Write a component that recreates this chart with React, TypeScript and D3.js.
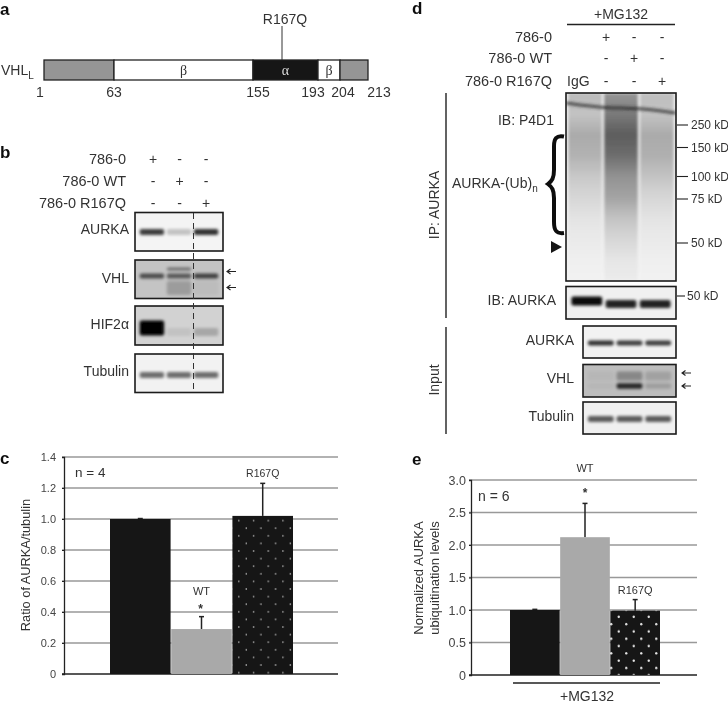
import React, { useRef, useEffect } from "react";
import * as d3 from "d3";

// panel a: VHL domains (residue boundaries)
const residues = [1, 63, 155, 167, 193, 204, 213];
const domainStarts = [1, 63, 155, 193, 204];
const domainEnds = [63, 155, 193, 204, 213];
const domainNames = ["", "β", "α", "β", ""];
const residueLabels = [1, 63, 155, 193, 204, 213];

// panel c
const groupsC = ["786-0", "WT", "R167Q"];
const ratioValues = [1.0, 0.29, 1.02];
const ratioErrors = [0.003, 0.08, 0.21];
const ratioTicks = [0, 0.2, 0.4, 0.6, 0.8, 1.0, 1.2, 1.4];

// panel e
const groupsE = ["786-0", "WT", "R167Q"];
const ubValues = [1.0, 2.12, 0.99];
const ubErrors = [0.01, 0.52, 0.17];
const ubTicks = [0, 0.5, 1.0, 1.5, 2.0, 2.5, 3.0];

// band darkness per lane
const bAurka = [0.75, 0.2, 0.8];
const bVhlMain = [0.62, 0.55, 0.68];
const bVhlUpper = [0, 0.45, 0];
const bVhlLower = [0, 0.2, 0.04];
const bHif = [1, 0.07, 0.2];
const bTubulin = [0.55, 0.55, 0.55];
const dIpAurka = [0.95, 0.85, 0.85];
const dInAurka = [0.8, 0.75, 0.75];
const dVhlUpper = [0.03, 0.28, 0.14];
const dVhlLower = [0.03, 0.8, 0.16];
const dTubulin = [0.62, 0.62, 0.62];

// ubiquitin smear darkness, top to bottom of the blot
const smearLane1 = [0.24, 0.2, 0.3, 0.27, 0.18, 0.12, 0.07, 0.04, 0.02, 0.01];
const smearLane2 = [0.38, 0.5, 0.62, 0.55, 0.4, 0.33, 0.2, 0.12, 0.06, 0.03];
const smearLane3 = [0.22, 0.2, 0.3, 0.28, 0.2, 0.12, 0.07, 0.04, 0.02, 0.01];

const kdTicks = [250, 150, 100, 75, 50];

const signs = [
  ["+", "-", "-"],
  ["-", "+", "-"],
  ["-", "-", "+"],
];
const rowNames = ["786-0", "786-0 WT", "786-0 R167Q"];

const FONT = "'Liberation Sans', Arial, sans-serif";
const INK = "#333";

type Sel = d3.Selection<any, any, any, any>;

const label = (
  g: Sel,
  x: number,
  y: number,
  str: string,
  size = 14,
  anchor = "start",
  rotate = false
) =>
  g
    .append("text")
    .attr("transform", rotate ? `translate(${x},${y}) rotate(-90)` : `translate(${x},${y})`)
    .attr("text-anchor", anchor)
    .attr("dominant-baseline", "central")
    .attr("font-size", size)
    .attr("fill", INK)
    .text(str);

const drawBlot = (
  svg: Sel,
  id: string,
  box: number[],
  bg: string,
  bands: { levels: number[]; y: number; h: number }[]
) => {
  const [x0, x1, y0, y1] = box;
  const lanes = d3.scaleBand<number>().domain([0, 1, 2]).range([x0 + 2, x1 - 2]).padding(0.1);
  svg
    .append("clipPath")
    .attr("id", id)
    .append("rect")
    .attr("x", x0)
    .attr("y", y0)
    .attr("width", x1 - x0)
    .attr("height", y1 - y0);
  const g = svg.append("g").attr("clip-path", `url(#${id})`);
  g.append("rect")
    .attr("x", x0)
    .attr("y", y0)
    .attr("width", x1 - x0)
    .attr("height", y1 - y0)
    .attr("fill", bg);
  bands.forEach((b) => {
    g.selectAll(null)
      .data(b.levels)
      .enter()
      .append("rect")
      .attr("x", (_, i) => lanes(i)!)
      .attr("y", b.y - b.h / 2)
      .attr("width", lanes.bandwidth())
      .attr("height", b.h)
      .attr("rx", 2)
      .attr("fill", "#000")
      .attr("opacity", (d) => d)
      .attr("filter", "url(#bandBlur)");
  });
  svg
    .append("rect")
    .attr("x", x0)
    .attr("y", y0)
    .attr("width", x1 - x0)
    .attr("height", y1 - y0)
    .attr("fill", "none")
    .attr("stroke", "#1a1a1a")
    .attr("stroke-width", 1.6);
};

const drawArrow = (g: Sel, x: number, y: number) =>
  g
    .append("path")
    .attr("d", `M${x},${y}h9M${x + 3.5},${y - 2.5}L${x},${y}L${x + 3.5},${y + 2.5}`)
    .attr("fill", "none")
    .attr("stroke", "#222")
    .attr("stroke-width", 1.1);

const drawBars = (
  svg: Sel,
  cfg: {
    groups: string[];
    values: number[];
    errors: number[];
    ticks: number[];
    max: number;
    axisX: number;
    gridEnd: number;
    top: number;
    bottom: number;
    barRange: number[];
    dots: string;
    fontSize: number;
    padding: number;
  }
) => {
  const y = d3.scaleLinear().domain([0, cfg.max]).range([cfg.bottom, cfg.top]);
  const x = d3.scaleBand().domain(cfg.groups).range(cfg.barRange as [number, number]).paddingInner(0.01);
  const fills = ["#151515", "#a9a9a9", `url(#${cfg.dots})`];

  svg
    .append("g")
    .selectAll("line")
    .data(cfg.ticks.slice(1))
    .enter()
    .append("line")
    .attr("x1", cfg.axisX - 2)
    .attr("x2", cfg.gridEnd)
    .attr("y1", (d) => y(d))
    .attr("y2", (d) => y(d))
    .attr("stroke", "#999")
    .attr("stroke-width", 1.4);

  const axis = svg
    .append("g")
    .attr("transform", `translate(${cfg.axisX},0)`)
    .call(
      d3
        .axisLeft(y)
        .tickValues(cfg.ticks)
        .tickSize(2)
        .tickPadding(cfg.padding)
        .tickFormat((d) => (+d === 0 ? "0" : (+d).toFixed(1)))
    );
  axis.select(".domain").attr("stroke", "#222").attr("stroke-width", 1.3);
  axis.selectAll(".tick line").attr("stroke", "#222");
  axis
    .selectAll("text")
    .attr("font-family", FONT)
    .attr("font-size", cfg.fontSize)
    .attr("fill", "#444");

  svg
    .append("line")
    .attr("x1", cfg.axisX - 2)
    .attr("x2", cfg.gridEnd)
    .attr("y1", y(0))
    .attr("y2", y(0))
    .attr("stroke", "#222")
    .attr("stroke-width", 1.6);

  // error bars go under the bars, only the upper arm shows
  const err = svg.append("g").attr("stroke", "#222").attr("stroke-width", 1.5);
  cfg.values.forEach((v, i) => {
    const cx = x(cfg.groups[i])! + x.bandwidth() / 2;
    const top = y(v + cfg.errors[i]);
    err.append("line").attr("x1", cx).attr("x2", cx).attr("y1", y(v)).attr("y2", top);
    err.append("line").attr("x1", cx - 2.5).attr("x2", cx + 2.5).attr("y1", top).attr("y2", top);
  });

  svg
    .append("g")
    .selectAll("rect")
    .data(cfg.values)
    .enter()
    .append("rect")
    .attr("x", (_, i) => x(cfg.groups[i])!)
    .attr("y", (d) => y(d))
    .attr("width", x.bandwidth())
    .attr("height", (d) => y(0) - y(d))
    .attr("fill", (_, i) => fills[i]);

  return { x, y };
};

const addDots = (defs: Sel, id: string, w: number, h: number, r: number) => {
  const p = defs
    .append("pattern")
    .attr("id", id)
    .attr("patternUnits", "userSpaceOnUse")
    .attr("width", w)
    .attr("height", h);
  p.append("rect").attr("width", w).attr("height", h).attr("fill", "#151515");
  p.append("circle").attr("cx", w / 4).attr("cy", h / 4).attr("r", r).attr("fill", "#e8e8e8");
  p.append("circle").attr("cx", (3 * w) / 4).attr("cy", (3 * h) / 4).attr("r", r).attr("fill", "#e8e8e8");
};

const App = () => {
  const svgRef = useRef<SVGSVGElement>(null);

  useEffect(() => {
    const root = d3.select(svgRef.current);
    root.selectAll("*").remove();

    const defs = root.append("defs");
    defs
      .append("filter")
      .attr("id", "soft")
      .attr("x", 0)
      .attr("y", 0)
      .attr("width", "100%")
      .attr("height", "100%")
      .append("feGaussianBlur")
      .attr("stdDeviation", 0.45);
    defs
      .append("filter")
      .attr("id", "bandBlur")
      .attr("x", "-20%")
      .attr("y", "-150%")
      .attr("width", "140%")
      .attr("height", "400%")
      .append("feGaussianBlur")
      .attr("stdDeviation", 1.8);
    defs
      .append("filter")
      .attr("id", "smearBlur")
      .attr("x", "-30%")
      .attr("y", "-5%")
      .attr("width", "160%")
      .attr("height", "110%")
      .append("feGaussianBlur")
      .attr("stdDeviation", 1.8);
    addDots(defs, "dotsC", 14.7, 15.2, 0.75);
    addDots(defs, "dotsE", 15, 14.6, 1.2);

    const svg = root.append("g").attr("filter", "url(#soft)").attr("font-family", FONT);
    svg.append("rect").attr("width", 728).attr("height", 704).attr("fill", "#fff");

    // panel letters
    [
      ["a", 0, 9],
      ["b", 0, 152],
      ["c", 0, 458],
      ["d", 412, 8],
      ["e", 412, 459],
    ].forEach(([t, x, y]) => {
      label(svg, x as number, y as number, t as string, 17, "start")
        .attr("font-weight", "bold")
        .attr("fill", "#111");
    });

    // --- a ---
    const pos = d3
      .scaleLinear()
      .domain(residues)
      .range([44, 114, 253, 282, 318, 340, 368]);
    const fills = ["#959595", "#fff", "#151515", "#fff", "#959595"];
    const a = svg.append("g");
    a.selectAll("rect")
      .data(domainStarts)
      .enter()
      .append("rect")
      .attr("x", (d) => pos(d))
      .attr("y", 60)
      .attr("width", (d, i) => pos(domainEnds[i]) - pos(d))
      .attr("height", 20)
      .attr("fill", (_, i) => fills[i])
      .attr("stroke", "#222")
      .attr("stroke-width", 1.3);
    domainNames.forEach((n, i) => {
      if (!n) return;
      label(a, (pos(domainStarts[i]) + pos(domainEnds[i])) / 2, 70.5, n, 14, "middle")
        .attr("font-family", "'Liberation Serif', serif")
        .attr("fill", n === "α" ? "#ddd" : "#333");
    });
    a.append("line")
      .attr("x1", pos(167))
      .attr("x2", pos(167))
      .attr("y1", 26)
      .attr("y2", 60)
      .attr("stroke", "#333")
      .attr("stroke-width", 1);
    label(a, pos(167) + 3, 19, "R167Q", 14, "middle");
    const vhl = label(a, 1, 70, "VHL", 14);
    vhl.append("tspan").attr("font-size", 10).attr("dy", 5).text("L");
    const labelShift = [-4, 0, 5, -5, 3, 11];
    residueLabels.forEach((r, i) => label(a, pos(r) + labelShift[i], 92, String(r), 14, "middle"));

    // --- b ---
    const signXB = d3.scalePoint().domain(["0", "1", "2"]).range([153, 206]);
    const rowYB = [159, 181, 203];
    rowNames.forEach((n, r) => {
      label(svg, 126, rowYB[r], n, 14.5, "end");
      signs[r].forEach((s, c) => label(svg, signXB(String(c))!, rowYB[r], s, 14, "middle"));
    });
    drawBlot(svg, "b1", [135, 223, 212.5, 251], "#f4f4f4", [{ levels: bAurka, y: 232, h: 6 }]);
    drawBlot(svg, "b2", [135, 223, 260, 298.5], "#c4c4c4", [
      { levels: bVhlMain, y: 276, h: 5 },
      { levels: bVhlUpper, y: 269, h: 3 },
      { levels: bVhlLower, y: 288, h: 14 },
    ]);
    drawBlot(svg, "b3", [135, 223, 306, 345], "#d2d2d2", [
      { levels: bHif.map((d, i) => (i === 0 ? d : 0)), y: 328, h: 15 },
      { levels: bHif.map((d, i) => (i === 0 ? 0 : d)), y: 332, h: 8 },
    ]);
    drawBlot(svg, "b4", [135, 223, 354, 392.5], "#f2f2f2", [{ levels: bTubulin, y: 375, h: 6 }]);
    svg
      .append("line")
      .attr("x1", 193.5)
      .attr("x2", 193.5)
      .attr("y1", 213)
      .attr("y2", 392)
      .attr("stroke", "#333")
      .attr("stroke-width", 1)
      .attr("stroke-dasharray", "6,4");
    [
      ["AURKA", 229],
      ["VHL", 278],
      ["HIF2α", 324],
      ["Tubulin", 371],
    ].forEach(([t, y]) => label(svg, 129, y as number, t as string, 14, "end"));
    drawArrow(svg, 227, 271.5);
    drawArrow(svg, 227, 287.5);

    // --- c ---
    const c = drawBars(svg, {
      groups: groupsC,
      values: ratioValues,
      errors: ratioErrors,
      ticks: ratioTicks,
      max: 1.4,
      axisX: 64,
      gridEnd: 338,
      top: 457,
      bottom: 674,
      barRange: [110, 293],
      dots: "dotsC",
      fontSize: 11,
      padding: 6,
    });
    label(svg, 25, 565, "Ratio of AURKA/tubulin", 12.8, "middle", true);
    label(svg, 75, 472, "n = 4", 13.5);
    label(svg, c.x("R167Q")! + c.x.bandwidth() / 2, 473, "R167Q", 10.5, "middle");
    label(svg, c.x("WT")! + c.x.bandwidth() / 2, 591, "WT", 11, "middle");
    label(svg, c.x("WT")! + c.x.bandwidth() / 2 - 1, 609, "*", 12, "middle").attr("font-weight", "bold");

    // --- d ---
    label(svg, 621, 14, "+MG132", 14, "middle");
    svg
      .append("line")
      .attr("x1", 567)
      .attr("x2", 675)
      .attr("y1", 24.5)
      .attr("y2", 24.5)
      .attr("stroke", "#222")
      .attr("stroke-width", 1.4);
    const signXD = d3.scalePoint().domain(["0", "1", "2"]).range([606, 662]);
    const rowYD = [37, 58, 81];
    rowNames.forEach((n, r) => {
      label(svg, 552, rowYD[r], n, 14.5, "end");
      signs[r].forEach((s, i) => label(svg, signXD(String(i))!, rowYD[r], s, 14, "middle"));
    });
    label(svg, 567, 81, "IgG", 14);

    // big blot with the smears
    const big = { x0: 566, x1: 676, y0: 93, y1: 281 };
    const bigLanes = d3.scaleBand<number>().domain([0, 1, 2]).range([big.x0, big.x1]).padding(0.06);
    [smearLane1, smearLane2, smearLane3].forEach((s, i) => {
      const grad = defs
        .append("linearGradient")
        .attr("id", `smear${i}`)
        .attr("x1", 0)
        .attr("x2", 0)
        .attr("y1", 0)
        .attr("y2", 1);
      s.forEach((v, k) => {
        grad
          .append("stop")
          .attr("offset", k / (s.length - 1))
          .attr("stop-color", "#000")
          .attr("stop-opacity", v);
      });
    });
    svg
      .append("clipPath")
      .attr("id", "bigClip")
      .append("rect")
      .attr("x", big.x0)
      .attr("y", big.y0)
      .attr("width", big.x1 - big.x0)
      .attr("height", big.y1 - big.y0);
    const bg = svg.append("g").attr("clip-path", "url(#bigClip)");
    bg.append("rect")
      .attr("x", big.x0)
      .attr("y", big.y0)
      .attr("width", big.x1 - big.x0)
      .attr("height", big.y1 - big.y0)
      .attr("fill", "#f4f4f4");
    bg.selectAll("rect.smear")
      .data([0, 1, 2])
      .enter()
      .append("rect")
      .attr("class", "smear")
      .attr("x", (d) => bigLanes(d)!)
      .attr("y", big.y0)
      .attr("width", bigLanes.bandwidth())
      .attr("height", big.y1 - big.y0)
      .attr("fill", (d) => `url(#smear${d})`)
      .attr("filter", "url(#smearBlur)");
    bg.append("path")
      .attr(
        "d",
        d3.line().curve(d3.curveBasis)([
          [big.x0, 103],
          [600, 108],
          [640, 108],
          [big.x1, 113],
        ])!
      )
      .attr("fill", "none")
      .attr("stroke", "#222")
      .attr("stroke-width", 3)
      .attr("opacity", 0.75)
      .attr("filter", "url(#bandBlur)");
    svg
      .append("rect")
      .attr("x", big.x0)
      .attr("y", big.y0)
      .attr("width", big.x1 - big.x0)
      .attr("height", big.y1 - big.y0)
      .attr("fill", "none")
      .attr("stroke", "#1a1a1a")
      .attr("stroke-width", 1.6);

    drawBlot(svg, "d2", [566, 676, 286.5, 319], "#f0f0f0", [
      { levels: dIpAurka.map((d, i) => (i === 0 ? d : 0)), y: 301, h: 9 },
      { levels: dIpAurka.map((d, i) => (i === 0 ? 0 : d)), y: 304, h: 8 },
    ]);
    drawBlot(svg, "d3", [583, 676, 326, 358], "#f2f2f2", [{ levels: dInAurka, y: 343, h: 5 }]);
    drawBlot(svg, "d4", [583, 676, 364.5, 397], "#bdbdbd", [
      { levels: dVhlUpper, y: 376, h: 9 },
      { levels: dVhlLower, y: 386, h: 5.5 },
    ]);
    drawBlot(svg, "d5", [583, 676, 402, 434], "#f0f0f0", [{ levels: dTubulin, y: 419, h: 6 }]);

    // marker ticks
    const kdY = d3.scaleLinear().domain(kdTicks).range([125, 147.5, 176.5, 199, 243]);
    kdTicks.forEach((k) => {
      svg
        .append("line")
        .attr("x1", 677)
        .attr("x2", 688)
        .attr("y1", kdY(k))
        .attr("y2", kdY(k))
        .attr("stroke", "#222")
        .attr("stroke-width", 1.1);
      label(svg, 691, kdY(k), `${k} kD`, 12);
    });
    svg
      .append("line")
      .attr("x1", 677)
      .attr("x2", 685)
      .attr("y1", 296)
      .attr("y2", 296)
      .attr("stroke", "#222")
      .attr("stroke-width", 1.1);
    label(svg, 687, 296, "50 kD", 12);

    // IP / Input rules
    [
      [93, 318],
      [327, 434],
    ].forEach(([y1, y2]) =>
      svg
        .append("line")
        .attr("x1", 446)
        .attr("x2", 446)
        .attr("y1", y1)
        .attr("y2", y2)
        .attr("stroke", "#222")
        .attr("stroke-width", 1.4)
    );
    label(svg, 434, 205, "IP: AURKA", 14, "middle", true);
    label(svg, 434, 380, "Input", 14, "middle", true);
    label(svg, 554, 120, "IB: P4D1", 14, "end");
    label(svg, 556, 300, "IB: AURKA", 14, "end");
    const ub = label(svg, 452, 183, "AURKA-(Ub)", 14);
    ub.append("tspan").attr("font-size", 10).attr("dy", 5).text("n");
    [
      ["AURKA", 340],
      ["VHL", 378],
      ["Tubulin", 416],
    ].forEach(([t, y]) => label(svg, 574, y as number, t as string, 14, "end"));
    drawArrow(svg, 682, 373);
    drawArrow(svg, 682, 386);

    // brace and arrowhead
    svg
      .append("path")
      .attr(
        "d",
        "M564,136.5C556,135 554,139 554,146L554,170C554,178 552,181 548,184C552,187 554,190 554,198L554,222C554,230 556,234 564,233"
      )
      .attr("fill", "none")
      .attr("stroke", "#111")
      .attr("stroke-width", 4);
    svg.append("path").attr("d", "M551,241L562,247L551,253Z").attr("fill", "#151515");

    // --- e ---
    const e = drawBars(svg, {
      groups: groupsE,
      values: ubValues,
      errors: ubErrors,
      ticks: ubTicks,
      max: 3,
      axisX: 471,
      gridEnd: 697,
      top: 480,
      bottom: 675,
      barRange: [510, 660],
      dots: "dotsE",
      fontSize: 12.5,
      padding: 3,
    });
    label(svg, 418, 578, "Normalized AURKA", 13, "middle", true);
    label(svg, 434, 578, "ubiquitination levels", 13, "middle", true);
    label(svg, 478, 496, "n = 6", 14);
    label(svg, e.x("WT")! + e.x.bandwidth() / 2, 468, "WT", 11, "middle");
    label(svg, e.x("WT")! + e.x.bandwidth() / 2, 493, "*", 12, "middle").attr("font-weight", "bold");
    label(svg, e.x("R167Q")! + e.x.bandwidth() / 2, 590, "R167Q", 11, "middle");
    svg
      .append("line")
      .attr("x1", 513)
      .attr("x2", 660)
      .attr("y1", 683)
      .attr("y2", 683)
      .attr("stroke", "#222")
      .attr("stroke-width", 1.4);
    label(svg, 587, 696, "+MG132", 14, "middle");
  }, []);

  return (
    <svg
      ref={svgRef}
      width={728}
      height={704}
      style={{ position: "absolute", left: 0, top: 0 }}
    />
  );
};

export default App;
